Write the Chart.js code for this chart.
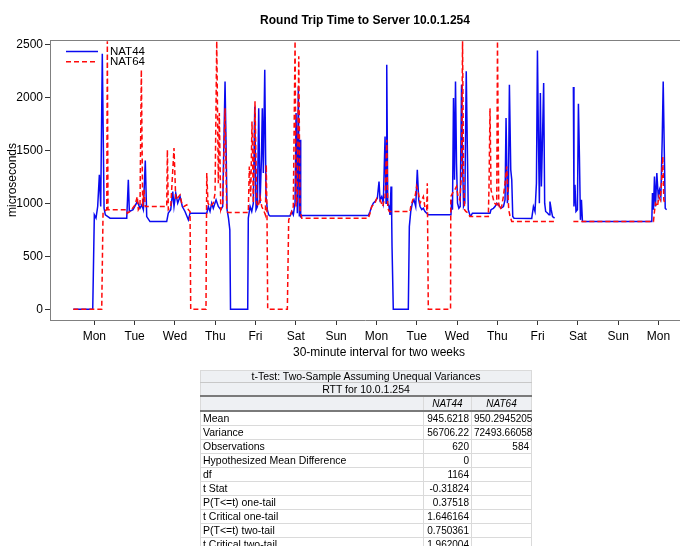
<!DOCTYPE html>
<html>
<head>
<meta charset="utf-8">
<title>Round Trip Time to Server 10.0.1.254</title>
<script src="https://cdn.jsdelivr.net/npm/chart.js@4.4.1/dist/chart.umd.min.js"></script>
<style>
  html, body { margin: 0; padding: 0; background: #fff; width: 680px; height: 546px; overflow: hidden;
    font-family: "Liberation Sans", Arial, sans-serif; color: #000; }
  #chart-wrap { position: absolute; left: 0; top: 0; width: 680px; height: 365px; }
  #chart-title { position: absolute; top: 13px; left: 200px; width: 330px; text-align: center;
    font-weight: bold; font-size: 12px; line-height: 14px; }
  #x-title { position: absolute; top: 345px; left: 259px; width: 240px; text-align: center;
    font-size: 12px; line-height: 14px; }
  #ttest { position: absolute; left: 200px; top: 370px; width: 331px; border-collapse: collapse; table-layout: fixed;
    font-size: 10.5px; border: 1px solid #8c8c8c; }
  #ttest td { padding: 0 2px; height: 13px; line-height: 13px; border: 1px solid #dadada;
    white-space: nowrap; overflow: visible; }
  #ttest tr.t1 td, #ttest tr.t2 td, #ttest tr.hd td { background: #eef0f3; text-align: center; }
  #ttest tr.t1 td { height: 11px; line-height: 11px; border-bottom: 1px solid #c8c8c8; }
  #ttest tr.t2 td { height: 12px; line-height: 12px; border-bottom: 2px solid #7a7a7a; }
  #ttest tr.hd td { font-style: italic; font-size: 10px; border-bottom: 2px solid #7a7a7a; }
  #ttest td.num { text-align: right; font-size: 10px; }
</style>
</head>
<body>
<div id="chart-wrap"><canvas id="rttCanvas" width="680" height="365"></canvas></div>
<div id="chart-title">Round Trip Time to Server 10.0.1.254</div>
<div id="x-title">30-minute interval for two weeks</div>
<table id="ttest"></table>

<script>
// x = 30-minute interval number, y = round trip time (microseconds)
const dayLabels = ['Mon', 'Tue', 'Wed', 'Thu', 'Fri', 'Sat', 'Sun', 'Mon', 'Tue', 'Wed', 'Thu', 'Fri', 'Sat', 'Sun', 'Mon'];
const dayTicks = [25, 73, 121, 169, 217, 265, 313, 361, 409, 457, 505, 553, 601, 649, 697];
const yTicks = [0, 500, 1000, 1500, 2000, 2500];

const nat44Interval = [0, 23.1, 23.8, 25, 27, 29, 31, 32.6, 34.5, 36.6, 38.1, 43.7, 63.6, 65.5, 66.7, 71.1, 76.2, 79.4, 81.5, 83.4,
  85.7, 87.4, 91.3, 111.2, 113.1, 116, 118.4, 119.9, 122, 124.3, 127.1, 129.8, 133, 137, 139, 158.9, 160.8, 162.8, 164.8, 166.7,
  170, 172.7, 175.6, 177.9, 180.7, 183.1, 184.8, 186.4, 187.2, 207.7, 208.4, 210.5, 212.5, 214.4, 216.1, 217.6, 219.2, 220.8, 222.4, 224,
  225.1, 226.3, 228, 229.5, 231.1, 232.7, 234.3, 258.1, 260.1, 262, 264.1, 265.3, 266.8, 268, 269.2, 270, 270.8, 272.4, 351.4, 353.4,
  355.4, 357.3, 359.3, 362.1, 364.1, 365.3, 367.3, 369.2, 371.3, 372.5, 373.3, 374.5, 376, 377.2, 378.4, 379.2, 379.6, 381.1, 399, 400.2,
  401.9, 403.8, 405.8, 407.8, 409.7, 411.4, 413, 415, 416.9, 418.9, 420.9, 422.8, 449.8, 450.6, 451.6, 452.8, 454, 455.2, 456.4, 457.6,
  459.2, 460.8, 462.4, 463.6, 464.8, 466.3, 468, 469.2, 470.4, 472.3, 473.5, 475.3, 496.3, 497.5, 500.3, 502.3, 504.3, 506.3, 509.4, 512.3,
  514.2, 515.4, 517, 518.3, 519.4, 521, 522.2, 523.4, 524.9, 546, 548, 549.9, 551.6, 552.8, 554, 555.1, 556.3, 557.5, 558.7, 560.2,
  561.4, 562.6, 565, 566.6, 567.7, 569.2, 570.8, 573.2, 584, 595.6, 596.3, 597.5, 598.7, 600.4, 601.6, 602.8, 604, 605.2, 606.4, 689,
  689.8, 691, 692.2, 693.4, 695, 696.7, 698.2, 699.8, 701.4, 702.6, 703.8, 705, 706.6];
const nat44Rtt = [0, 0, 324, 891, 860, 970, 1270, 970, 2412, 953, 891, 860, 860, 1222, 923, 940, 1016, 953, 985, 940,
  1404, 875, 828, 828, 907, 940, 1111, 970, 1096, 1001, 1064, 970, 923, 844, 907, 907, 970, 923, 1001, 953,
  1033, 970, 940, 970, 2150, 940, 860, 750, 0, 0, 860, 970, 923, 1001, 1914, 940, 970, 1898, 1001, 1411,
  1898, 1285, 2261, 1064, 940, 891, 880, 880, 923, 891, 1001, 1852, 907, 2103, 875, 1600, 875, 884, 884, 923,
  970, 1001, 1016, 1048, 1206, 1033, 1064, 1001, 1631, 1001, 2308, 1001, 970, 891, 1159, 860, 591, 0, 0, 780,
  923, 1001, 1033, 970, 1316, 1033, 970, 940, 953, 923, 907, 891, 891, 1033, 940, 1993, 1222, 2150, 1379, 1001,
  953, 970, 2119, 1380, 970, 1001, 2245, 1568, 940, 891, 880, 907, 907, 940, 953, 970, 1001, 985, 953, 970,
  1033, 1805, 1001, 1159, 2119, 1316, 1222, 875, 860, 857, 970, 923, 1190, 2443, 1600, 1001, 2041, 1159, 1568, 2135,
  1001, 923, 907, 891, 1016, 940, 875, 860, null, 2098, 970, 1174, 923, 940, 1940, 1442, 844, 1033, 828, 828,
  1096, 940, 1253, 970, 1285, 1064, 1127, 1064, 1600, 2150, 1537, 953, 940];

const nat64Interval = [0, 33.8, 35.4, 39.8, 40.5, 41.3, 63.6, 64.3, 67.5, 73.5, 76.2, 77.4, 79.4, 81, 82.6, 84.2, 85.7, 111.2, 112, 113.1,
  116, 119.9, 122, 123.8, 127.1, 129.1, 131.8, 135.1, 137, 139, 139.8, 158, 158.9, 160.4, 162.8, 166.7, 168.8, 170.8, 172.7, 173.9,
  175.6, 177.9, 180.7, 182.7, 184.6, 208.4, 209.6, 211.3, 212.8, 214.4, 216.4, 218.4, 220.3, 222.4, 224.4, 226.3, 228.7, 229.8, 230.7, 231.5,
  254.9, 256.5, 258.1, 260.1, 262, 264.1, 265.3, 266.8, 268.5, 270, 272.1, 351.4, 353.4, 355.4, 359.3, 361.4, 365.3, 368.5, 371.3, 373.3,
  374.5, 376.4, 401, 401.9, 404.3, 407, 409, 411, 413, 415, 416.9, 418.9, 420.9, 421.6, 422.8, 449.3, 449.6, 451.7, 454.4, 456.4,
  458.3, 460.4, 462.4, 463.6, 464.8, 466, 467.5, 470.3, 472.3, 494.3, 495.1, 496.3, 497.5, 499.5, 501.4, 504.3, 505.2, 506.7, 508.2, 510.2,
  512.2, 514.2, 516.2, 517.4, 518.6, 520.2, 522.2, 573.2, 584, 595.6, 691, 692.2, 693.4, 695.8, 697.4, 699, 700.6, 702.1, 703.3, 704.5];
const nat64Rtt = [0, 0, 922, 940, 2530, 940, 940, 907, 923, 985, 1064, 940, 970, 2261, 970, 1127, 970, 970, 1505, 940,
  970, 1521, 1033, 1048, 1080, 1001, 970, 985, 940, 923, 0, 0, 1285, 1001, 970, 1001, 1095, 2530, 1190, 1852,
  940, 1001, 1898, 923, 913, 913, 1348, 1064, 1773, 1001, 1962, 1001, 970, 1064, 970, 940, 891, 1363, 860, 0,
  0, 844, 875, 923, 970, 2530, 970, 1064, 2387, 940, 860, 860, 907, 970, 1001, 1048, 1033, 970, 1064, 1600,
  953, 923, 923, 970, 1033, 1064, 1159, 1096, 1001, 1033, 1064, 953, 940, 1190, 0, 0, 1064, 1096, 1127, 1159,
  1064, 1033, 1285, 2530, 1285, 940, 923, 907, 875, 875, 1159, 1898, 1127, 1064, 1001, 985, 2530, 1001, 940, 970,
  1064, 1190, 1348, 1127, 940, 875, 828, 828, null, 828, 828, 923, 1001, 970, 1064, 1033, 1190, 1442, 1033, 1001];

// t-test table
const statLabels = ['Mean', 'Variance', 'Observations', 'Hypothesized Mean Difference', 'df', 't Stat',
  'P(T<=t) one-tail', 't Critical one-tail', 'P(T<=t) two-tail', 't Critical two-tail'];
const nat44Stats = ['945.6218', '56706.22', '620', '0', '1164', '-0.31824', '0.37518', '1.646164', '0.750361', '1.962004'];
const nat64Stats = ['950.2945205', '72493.66058', '584', '', '', '', '', '', '', ''];

function buildTable() {
    const t = document.getElementById('ttest');
    let html = '<colgroup><col style="width:223px"><col style="width:48px"><col style="width:60px"></colgroup>';
    html += '<tr class="t1"><td colspan="3">t-Test: Two-Sample Assuming Unequal Variances</td></tr>';
    html += '<tr class="t2"><td colspan="3">RTT for 10.0.1.254</td></tr>';
    html += '<tr class="hd"><td></td><td>NAT44</td><td>NAT64</td></tr>';
    statLabels.forEach((lab, i) => {
        html += `<tr><td>${lab.replace('<', '&lt;')}</td><td class="num">${nat44Stats[i]}</td><td class="num">${nat64Stats[i]}</td></tr>`;
    });
    t.innerHTML = html;
}
buildTable();

const toPoints = (xs, ys) => xs.map((x, i) => ({ x: x, y: ys[i] }));

// legend drawn inside the plot, top-left, plus the top frame line
const insideLegend = {
    id: 'insideLegend',
    afterDraw(chart) {
        const { ctx, chartArea: a } = chart;
        ctx.save();
        ctx.strokeStyle = '#808080';
        ctx.lineWidth = 1;
        ctx.beginPath();
        ctx.moveTo(a.left, a.top + 0.5);
        ctx.lineTo(a.right, a.top + 0.5);
        ctx.stroke();
        chart.data.datasets.forEach((ds, i) => {
            const y = a.top + 11.5 + i * 10.3;
            ctx.strokeStyle = ds.borderColor;
            ctx.lineWidth = ds.borderWidth;
            ctx.setLineDash(ds.borderDash || []);
            ctx.beginPath();
            ctx.moveTo(a.left + 16, y);
            ctx.lineTo(a.left + 48, y);
            ctx.stroke();
            ctx.setLineDash([]);
            ctx.fillStyle = '#000';
            ctx.font = '11.5px "Liberation Sans", Arial, sans-serif';
            ctx.textBaseline = 'middle';
            ctx.fillText(ds.label, a.left + 60, y + 0.5);
        });
        ctx.restore();
    }
};

Chart.defaults.font.family = '"Liberation Sans", Arial, sans-serif';
Chart.defaults.font.size = 12;
Chart.defaults.color = '#000';

new Chart(document.getElementById('rttCanvas'), {
    type: 'line',
    data: {
        datasets: [{
            label: 'NAT44',
            data: toPoints(nat44Interval, nat44Rtt),
            borderColor: '#0a0af0',
            borderWidth: 1.5,
            pointRadius: 0,
            tension: 0,
            spanGaps: false,
            order: 1
        }, {
            label: 'NAT64',
            data: toPoints(nat64Interval, nat64Rtt),
            borderColor: '#ff0a0a',
            borderWidth: 1.5,
            borderDash: [5, 3],
            pointRadius: 0,
            tension: 0,
            spanGaps: false,
            order: 0
        }]
    },
    options: {
        responsive: false,
        animation: false,
        devicePixelRatio: 1,
        layout: { padding: { top: 40, right: 0, bottom: 0, left: 0 } },
        plugins: {
            legend: { display: false },
            title: { display: false },
            tooltip: { enabled: false }
        },
        scales: {
            x: {
                type: 'linear',
                min: -27.8,
                max: 722.6,
                afterFit: (s) => { s.height = 45; },
                afterBuildTicks: (s) => { s.ticks = dayTicks.map(v => ({ value: v })); },
                grid: { drawOnChartArea: false, drawTicks: true, tickLength: 5, tickColor: '#333' },
                border: { display: true, color: '#808080', width: 1 },
                ticks: {
                    autoSkip: false,
                    maxRotation: 0,
                    padding: 4,
                    font: { size: 12 },
                    callback: (v, i) => dayLabels[i]
                }
            },
            y: {
                min: -101,
                max: 2541,
                afterFit: (s) => { s.width = 50; },
                afterBuildTicks: (s) => { s.ticks = yTicks.map(v => ({ value: v })); },
                grid: { drawOnChartArea: false, drawTicks: true, tickLength: 5, tickColor: '#333' },
                border: { display: true, color: '#808080', width: 1 },
                ticks: { padding: 2, font: { size: 12 }, callback: (v) => String(v) },
                title: { display: true, text: 'microseconds', padding: { top: 5, bottom: 0 }, font: { size: 12 } }
            }
        }
    },
    plugins: [insideLegend]
});
</script>
</body>
</html>
